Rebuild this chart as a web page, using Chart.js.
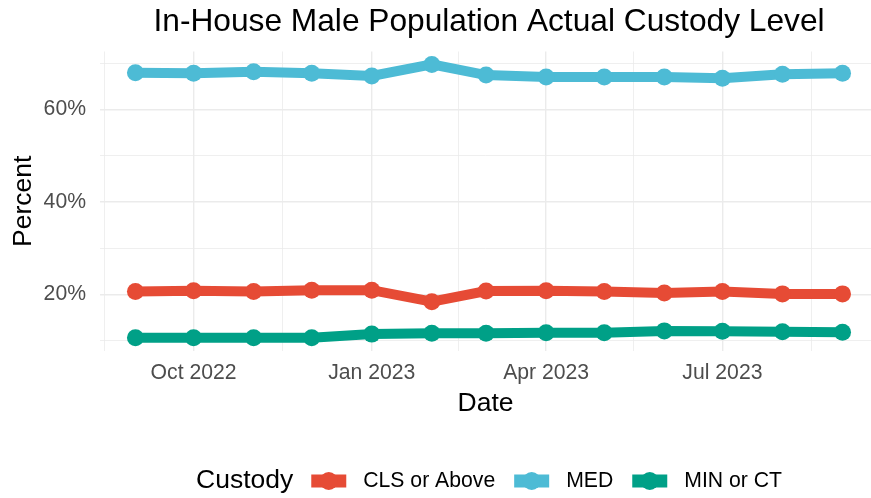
<!DOCTYPE html>
<html>
<head>
<meta charset="utf-8">
<title>In-House Male Population Actual Custody Level</title>
<script src="https://cdn.jsdelivr.net/npm/chart.js@4.4.1/dist/chart.umd.min.js"></script>
<style>
    html, body { margin: 0; padding: 0; background: #fff; }
    #wrap { position: relative; width: 871px; height: 498px; }
</style>
</head>
<body>
<div id="wrap"><canvas id="chartCustody"></canvas></div>
<script>
/* DATA */
const months = ['2022-09-01','2022-10-01','2022-11-01','2022-12-01','2023-01-01','2023-02-01','2023-03-01',
                '2023-04-01','2023-05-01','2023-06-01','2023-07-01','2023-08-01','2023-09-01'];
const clsAbove = [20.6, 20.8, 20.6, 20.9, 20.9, 18.4, 20.7, 20.8, 20.6, 20.3, 20.6, 20.1, 20.1];
const med      = [67.9, 67.8, 68.1, 67.8, 67.2, 69.7, 67.4, 67.0, 67.0, 67.0, 66.7, 67.6, 67.8];
const minCt    = [10.6, 10.6, 10.6, 10.6, 11.4, 11.6, 11.6, 11.7, 11.7, 12.1, 12.0, 11.9, 11.8];

const seriesNames  = ['CLS or Above', 'MED', 'MIN or CT'];
const seriesColors = ['#E64B35', '#4DBBD5', '#00A087'];

const xTickDates  = ['2022-10-01', '2023-01-01', '2023-04-01', '2023-07-01'];
const xTickLabels = ['Oct 2022', 'Jan 2023', 'Apr 2023', 'Jul 2023'];
const xMinorDates = ['2022-08-16', '2022-11-16', '2023-02-15', '2023-05-16', '2023-08-16'];
const yTicks      = [20, 40, 60];
const yMinor      = [10, 30, 50, 70];

const DAY = 86400000;
const t0 = Date.parse(months[0]);
const toPts = arr => arr.map((v, i) => ({x: Date.parse(months[i]), y: v}));

const FONT = "'Liberation Sans', Arial, sans-serif";
const majorX = new Set(xTickDates.map(d => Date.parse(d)));
const majorY = new Set(yTicks);

/* judul + legenda gaya ggplot */
const ggDecor = {
    id: 'ggDecor',
    afterDraw(chart) {
        const {ctx, chartArea} = chart;
        const cx = (chartArea.left + chartArea.right) / 2 + 3.5;
        ctx.save();
        ctx.fillStyle = '#000';
        ctx.textBaseline = 'middle';
        ctx.textAlign = 'center';
        ctx.font = `31.7px ${FONT}`;
        ctx.fillText('In-House Male Population Actual Custody Level', cx, 22);

        // legenda
        const ly = 481;
        ctx.font = `26.5px ${FONT}`;
        const titleW = ctx.measureText('Custody').width;
        ctx.font = `21.2px ${FONT}`;
        const labW = seriesNames.map(s => ctx.measureText(s).width);
        const keyW = 35, gapT = 18, gapK = 17, gapI = 19;
        let total = titleW + gapT;
        labW.forEach((w, i) => { total += keyW + gapK + w + (i < labW.length - 1 ? gapI : 0); });
        let x = cx - total / 2;
        ctx.textAlign = 'left';
        ctx.font = `26.5px ${FONT}`;
        ctx.fillText('Custody', x, ly);
        x += titleW + gapT;
        ctx.font = `21.2px ${FONT}`;
        chart.data.datasets.forEach((ds, i) => {
            ctx.strokeStyle = ds.borderColor;
            ctx.fillStyle = ds.borderColor;
            ctx.lineWidth = 13;
            ctx.beginPath();
            ctx.moveTo(x, ly); ctx.lineTo(x + keyW, ly);
            ctx.stroke();
            ctx.beginPath();
            ctx.arc(x + keyW / 2, ly, 9, 0, Math.PI * 2);
            ctx.fill();
            x += keyW + gapK;
            ctx.fillStyle = '#000';
            ctx.fillText(ds.label, x, ly);
            x += labW[i] + gapI;
        });
        ctx.restore();
    }
};

const mkSet = (i, arr) => ({
    label: seriesNames[i],
    data: toPts(arr),
    borderColor: seriesColors[i],
    backgroundColor: seriesColors[i],
    borderWidth: 10,
    pointRadius: 8.5,
    pointHoverRadius: 8.5,
    pointBorderWidth: 0,
    tension: 0
});

new Chart(document.getElementById('chartCustody'), {
    type: 'line',
    data: { datasets: [mkSet(0, clsAbove), mkSet(1, med), mkSet(2, minCt)] },
    plugins: [ggDecor],
    options: {
        responsive: true, maintainAspectRatio: false, animation: false,
        layout: { autoPadding: false, padding: {top: 51.5, left: 0, right: 0, bottom: 77} },
        plugins: { legend: {display: false}, title: {display: false}, tooltip: {enabled: false} },
        scales: {
            x: {
                type: 'linear',
                min: t0 - 18.3 * DAY, max: t0 + 379.7 * DAY,
                afterBuildTicks: s => { s.ticks = xMinorDates.concat(xTickDates).map(d => ({value: Date.parse(d)})).sort((a, b) => a.value - b.value); },
                afterFit: s => { s.height = 70; },
                border: {display: false},
                grid: {
                    color: '#EBEBEB', drawTicks: false,
                    lineWidth: c => (c.tick && majorX.has(c.tick.value)) ? 1.4 : 0.8
                },
                ticks: {
                    autoSkip: false, maxRotation: 0, padding: 9.6, color: '#4D4D4D',
                    font: {family: FONT, size: 21.2},
                    callback: v => { const k = xTickDates.findIndex(d => Date.parse(d) === v); return k >= 0 ? xTickLabels[k] : ''; }
                },
                title: { display: true, text: 'Date', color: '#000', font: {family: FONT, size: 26.5}, padding: {top: 0, bottom: 1.8} }
            },
            y: {
                min: 7.75, max: 72.5,
                afterBuildTicks: s => { s.ticks = yMinor.concat(yTicks).sort((a, b) => a - b).map(v => ({value: v})); },
                afterFit: s => { s.width = 100; },
                border: {display: false},
                grid: {
                    color: '#EBEBEB', drawTicks: false,
                    lineWidth: c => (c.tick && majorY.has(c.tick.value)) ? 1.4 : 0.8
                },
                ticks: {
                    autoSkip: false, padding: 14, color: '#4D4D4D',
                    font: {family: FONT, size: 21.2},
                    callback: v => majorY.has(v) ? v + '%' : ''
                },
                title: { display: true, text: 'Percent', color: '#000', font: {family: FONT, size: 26.5}, padding: {top: 7.4, bottom: 0} }
            }
        }
    }
});
</script>
</body>
</html>
